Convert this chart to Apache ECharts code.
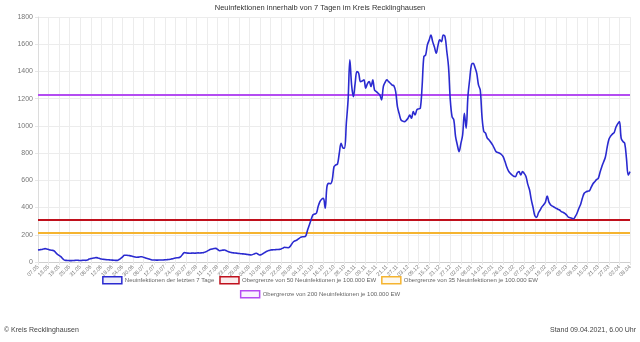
<!DOCTYPE html>
<html>
<head>
<meta charset="utf-8">
<script src="https://cdn.jsdelivr.net/npm/echarts@6/dist/echarts.min.js"></script>
<style>
html,body{margin:0;padding:0;background:#fff;}
#chart{width:640px;height:342px;}
</style>
</head>
<body>
<div id="chart"></div>
<script>
// first day of the series and label format (dd.mm)
const startDate = [2020, 4, 7];
// 7-day new infections, daily from 07.05.2020 to 08.04.2021
const incidence = [
  88, 90, 92, 95, 98, 96, 92, 88, 86, 83,
  70, 57, 48, 39, 25, 14, 12, 11, 10, 10,
  11, 12, 13, 12, 11, 12, 13, 12, 14, 22,
  25, 28, 30, 32, 30, 26, 22, 20, 18, 17,
  16, 15, 14, 13, 12, 12, 18, 27, 38, 49,
  50, 48, 47, 44, 40, 37, 35, 36, 38, 39,
  34, 29, 25, 22, 18, 15, 15, 14, 14, 15,
  15, 15, 16, 17, 18, 20, 23, 26, 29, 31,
  32, 39, 55, 69, 67, 65, 64, 65, 66, 64,
  66, 67, 66, 68, 69, 74, 80, 87, 93, 96,
  99, 100, 92, 83, 85, 87, 88, 82, 76, 71,
  69, 67, 66, 64, 63, 61, 60, 59, 57, 55,
  53, 51, 56, 61, 64, 57, 51, 56, 64, 72,
  79, 84, 88, 89, 90, 91, 92, 93, 96, 102,
  108, 106, 105, 113, 132, 149, 156, 162, 172, 181,
  186, 186, 192, 235, 272, 310, 345, 352, 358, 407,
  443, 461, 468, 395, 553, 578, 575, 603, 700, 713,
  720, 799, 872, 840, 836, 1019, 1191, 1485, 1300, 1215,
  1313, 1399, 1387, 1325, 1330, 1338, 1277, 1310, 1325, 1289,
  1338, 1264, 1252, 1240, 1227, 1191, 1289, 1320, 1338, 1325,
  1313, 1300, 1294, 1252, 1142, 1090, 1044, 1035, 1031, 1040,
  1056, 1080, 1056, 1105, 1080, 1117, 1125, 1130, 1289, 1509,
  1521, 1595, 1630, 1668, 1619, 1580, 1534, 1590, 1632, 1619,
  1668, 1656, 1550, 1435, 1191, 1068, 1044, 921, 860, 811,
  870, 933, 1093, 983, 1215, 1340, 1448, 1460, 1430, 1387,
  1301, 1264, 1068, 960, 946, 910, 897, 880, 860, 835,
  811, 805, 799, 790, 774, 740, 700, 670, 652, 640,
  630, 627, 655, 664, 639, 664, 650, 627, 570, 529,
  456, 400, 340, 328, 360, 382, 405, 420, 440, 485,
  440, 419, 410, 402, 395, 388, 382, 370, 365, 358,
  345, 330, 325, 321, 318, 335, 360, 395, 425, 470,
  505, 515, 520, 524, 550, 575, 590, 605, 615, 660,
  700, 735, 770, 840, 900, 925, 940, 950, 990, 1015,
  1031, 909, 885, 872, 760, 639, 664
];
// threshold lines (50, 35, 200 per 100.000 EW)
const thresholdNames = [
  'Obergrenze von 50 Neuinfektionen je 100.000 EW',
  'Obergrenze von 35 Neuinfektionen je 100.000 EW',
  'Obergrenze von 200 Neuinfektionen je 100.000 EW'
];
const thresholdValues = [307, 215, 1228];
const mainName = 'Neuinfektionen der letzten 7 Tage';
const yTicks = [0, 200, 400, 600, 800, 1000, 1200, 1400, 1600, 1800];

const categories = incidence.map((_, i) => {
  const d = new Date(Date.UTC(startDate[0], startDate[1], startDate[2]) + i * 86400000);
  const dd = String(d.getUTCDate()).padStart(2, '0');
  const mm = String(d.getUTCMonth() + 1).padStart(2, '0');
  return dd + '.' + mm;
});

const colors = ['#2a2ad0', '#c0101c', '#f5b430', '#b44cf2'];
const fills = ['rgba(42,42,208,0.08)', 'rgba(192,16,28,0.08)', 'rgba(245,180,48,0.08)', 'rgba(180,76,242,0.08)'];
const FONT = 'Liberation Sans, Arial, sans-serif';

const legendItem = (name, i) => ({
  name: name,
  itemStyle: { color: fills[i], borderColor: colors[i], borderWidth: 1.5 }
});

const chart = echarts.init(document.getElementById('chart'), null, { renderer: 'canvas' });
const thresholdSeries = thresholdNames.map((n, k) => ({
  name: n,
  type: 'line',
  data: [],
  color: colors[k + 1],
  lineStyle: { color: colors[k + 1], width: 2 },
  showSymbol: false,
  silent: true,
  markLine: {
    silent: true,
    symbol: 'none',
    label: { show: false },
    lineStyle: { color: colors[k + 1], width: 2, type: 'solid' },
    data: [{ yAxis: thresholdValues[k] }],
    animation: false
  }
}));

chart.setOption({
  animation: false,
  title: {
    text: 'Neuinfektionen innerhalb von 7 Tagen im Kreis Recklinghausen',
    left: 'center', top: 4, padding: 0,
    textStyle: { fontSize: 7.5, fontWeight: 'normal', color: '#333', fontFamily: FONT }
  },
  legend: [
    {
      top: 276, left: 'center', padding: 0, icon: 'rect', itemWidth: 19, itemHeight: 7, itemGap: 5,
      textStyle: { fontSize: 6, color: '#666', fontFamily: FONT, padding: [0, 0, 0, -2] },
      data: [legendItem(mainName, 0), legendItem(thresholdNames[0], 1), legendItem(thresholdNames[1], 2)],
      selectedMode: false
    },
    {
      top: 290, left: 'center', padding: 0, icon: 'rect', itemWidth: 19, itemHeight: 7, itemGap: 5,
      textStyle: { fontSize: 6, color: '#666', fontFamily: FONT, padding: [0, 0, 0, -2] },
      data: [legendItem(thresholdNames[2], 3)],
      selectedMode: false
    }
  ],
  grid: { left: 38, right: 10, top: 17, bottom: 80, containLabel: false },
  xAxis: {
    type: 'category',
    data: categories,
    boundaryGap: false,
    axisLine: { show: true, lineStyle: { color: '#cfcfcf' } },
    axisTick: { show: true, interval: 5, length: 3, lineStyle: { color: '#e6e6e6' } },
    axisLabel: { interval: 5, rotate: 45, fontSize: 5.5, color: '#777', fontFamily: FONT, margin: 4 },
    splitLine: { show: true, interval: 5, lineStyle: { color: '#ececec', width: 1 } }
  },
  yAxis: {
    type: 'value',
    min: yTicks[0], max: yTicks[yTicks.length - 1], interval: 200,
    axisLine: { show: true, lineStyle: { color: '#dcdcdc' } },
    axisTick: { show: true, length: 3, lineStyle: { color: '#e6e6e6' } },
    axisLabel: { fontSize: 7, color: '#777', fontFamily: FONT, margin: 5, formatter: v => String(v) },
    splitLine: { show: true, lineStyle: { color: '#ececec', width: 1 } }
  },
  series: [
    {
      name: mainName,
      type: 'line',
      data: incidence,
      color: colors[0],
      smooth: 0.35,
      showSymbol: false,
      lineStyle: { color: colors[0], width: 1.6 },
      z: 5
    }
  ].concat(thresholdSeries),
  graphic: [
    { type: 'text', left: 4, top: 327, style: { text: '© Kreis Recklinghausen', fontSize: 7, fill: '#444', fontFamily: FONT } },
    { type: 'text', right: 4, top: 327, style: { text: 'Stand 09.04.2021, 6.00 Uhr', fontSize: 7, fill: '#444', fontFamily: FONT } }
  ]
});
</script>
</body>
</html>
